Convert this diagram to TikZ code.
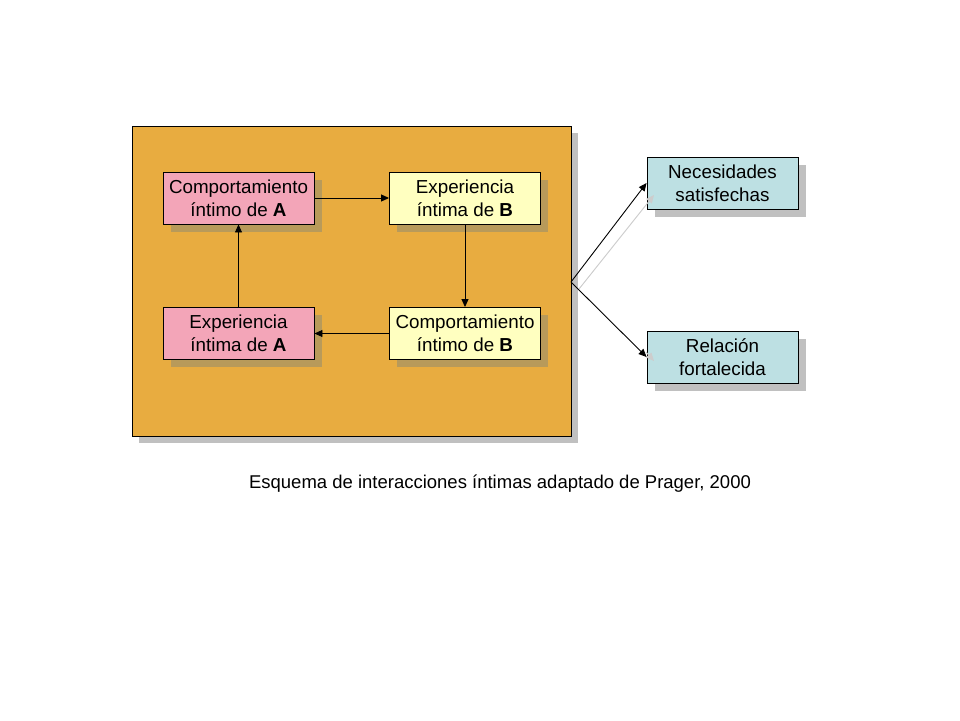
\documentclass[tikz,border=0pt]{standalone}
\usepackage{fontspec}
\setmainfont{Liberation Sans}
\usetikzlibrary{arrows.meta}
\definecolor{orangebg}{HTML}{E8AC40}
\definecolor{pinkbox}{HTML}{F3A5B8}
\definecolor{yellowbox}{HTML}{FFFFC0}
\definecolor{bluebox}{HTML}{BDE0E3}
\definecolor{brownshadow}{HTML}{B89A5A}
\definecolor{grayshadow}{HTML}{C0C0C0}
\tikzset{
  boxnode/.style={draw=black, line width=0.9pt, minimum width=151pt, minimum height=52pt,
    inner sep=0pt, align=center, font=\fontsize{18.8}{23}\selectfont},
  arr/.style={-{Triangle[length=8pt,width=7pt]}, line width=0.9pt},
  shadowarr/.style={-{Triangle[length=8pt,width=7pt]}, line width=0.9pt, draw=grayshadow!80!white, fill=grayshadow!80!white},
}
\begin{document}
\begin{tikzpicture}[x=1pt,y=-1pt]
\useasboundingbox[fill=white] (0,0) rectangle (960,720);
% big box
\fill[grayshadow] (139,133) rectangle (578,443);
\node[draw=black, line width=0.9pt, fill=orangebg, minimum width=439pt, minimum height=310pt, inner sep=0pt] (big) at (351.5,281) {};
% inner shadows
\fill[brownshadow] (171,180) rectangle (322,232);
\fill[brownshadow] (397,180) rectangle (548,232);
\fill[brownshadow] (171,315) rectangle (322,367);
\fill[brownshadow] (397,315) rectangle (548,367);
\node[boxnode, fill=pinkbox] (ca) at (238.5,198) {Comportamiento\\íntimo de \textbf{A}};
\node[boxnode, fill=yellowbox] (eb) at (465,198) {Experiencia\\íntima de \textbf{B}};
\node[boxnode, fill=pinkbox] (ea) at (238.5,333.5) {Experiencia\\íntima de \textbf{A}};
\node[boxnode, fill=yellowbox] (cb) at (465,333.5) {Comportamiento\\íntimo de \textbf{B}};
\draw[arr] (ca.east) -- (eb.west);
\draw[arr] (eb.south) -- (cb.north);
\draw[arr] (cb.west) -- (ea.east);
\draw[arr] (ea.north) -- (ca.south);
% right boxes shadows
\fill[grayshadow] (655,165) rectangle (806,217);
\fill[grayshadow] (655,339) rectangle (806,391);
% connectors
\coordinate (src) at (571,282);
\coordinate (srcs) at (579,289);
\coordinate (nt) at (654,195);
\coordinate (rts) at (646,352);
\coordinate (rt) at (654,361);
\node[boxnode, fill=bluebox] (nec) at (722.5,183) {Necesidades\\satisfechas};
\node[boxnode, fill=bluebox] (rel) at (722.5,357) {Relación\\fortalecida};
\draw[shadowarr] (srcs) -- (nt);
\draw[shadowarr] (rts) -- (rt);
\draw[arr] (src) -- (nec.west);
\draw[arr] (src) -- (rel.west);
\node[font=\fontsize{18.5}{22}\selectfont] (cap) at (500,484) {Esquema de interacciones íntimas adaptado de Prager, 2000};
\end{tikzpicture}
\end{document}
